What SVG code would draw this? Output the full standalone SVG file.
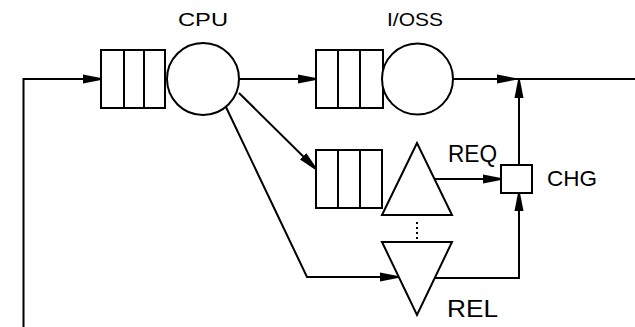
<svg xmlns="http://www.w3.org/2000/svg" width="635" height="327" viewBox="0 0 635 327">
<style>
.s{fill:none;stroke:#000;stroke-width:2}
.n{fill:#fff;stroke:#000;stroke-width:2}
.t{font-family:"Liberation Sans",Arial,sans-serif;fill:#000}
</style>
<defs>
<marker id="a" markerUnits="userSpaceOnUse" markerWidth="20" markerHeight="12" refX="18" refY="5" orient="auto">
<path d="M0,0.5 L18,4 L18,6 L0,9.5 Z" fill="#000"/>
</marker>
</defs>
<rect width="635" height="327" fill="#fff"/>
<g id="connectors">
<path class="s" d="M23.5,327 V79 H101" marker-end="url(#a)"/>
<path class="s" d="M238,79 H316" marker-end="url(#a)"/>
<path class="s" d="M239,93 L316,169" marker-end="url(#a)"/>
<path class="s" d="M225,105 L307,277 H398" marker-end="url(#a)"/>
<path class="s" d="M435,179 H501" marker-end="url(#a)"/>
<path class="s" d="M435,278 H519 V193" marker-end="url(#a)"/>
<path class="s" d="M519,165 V80" marker-end="url(#a)"/>
<path class="s" d="M444,79 H515" marker-end="url(#a)"/>
<path class="s" d="M515,79 H635"/>
<path class="s" d="M417,222 V241" stroke-dasharray="2,3"/>
</g>
<g id="cpu-queue">
<rect class="n" x="101" y="50" width="64" height="58"/>
<path class="s" d="M124,50 V108 M144,50 V108"/>
</g>
<g id="cpu">
<circle class="n" cx="203" cy="79" r="36"/>
<text class="t" x="178" y="26" font-size="18" textLength="50" lengthAdjust="spacingAndGlyphs">CPU</text>
</g>
<g id="ioss-queue">
<rect class="n" x="316" y="50" width="67" height="58"/>
<path class="s" d="M338,50 V108 M360,50 V108"/>
</g>
<g id="ioss">
<circle class="n" cx="417.5" cy="79" r="35.5"/>
<text class="t" x="387" y="26" font-size="18" textLength="56" lengthAdjust="spacingAndGlyphs">I/OSS</text>
</g>
<g id="req-queue">
<rect class="n" x="316" y="150" width="66" height="58"/>
<path class="s" d="M338,150 V208 M360,150 V208"/>
</g>
<g id="req">
<polygon class="n" points="417,143 382,215 452,215"/>
<text class="t" x="448" y="162" font-size="23" textLength="49" lengthAdjust="spacingAndGlyphs">REQ</text>
</g>
<g id="rel">
<polygon class="n" points="382,242 452,242 417,315"/>
<text class="t" x="447" y="317" font-size="23" textLength="51" lengthAdjust="spacingAndGlyphs">REL</text>
</g>
<g id="chg">
<rect class="n" x="501" y="165" width="31" height="28"/>
<text class="t" x="547" y="186" font-size="22" textLength="50" lengthAdjust="spacingAndGlyphs">CHG</text>
</g>
</svg>
